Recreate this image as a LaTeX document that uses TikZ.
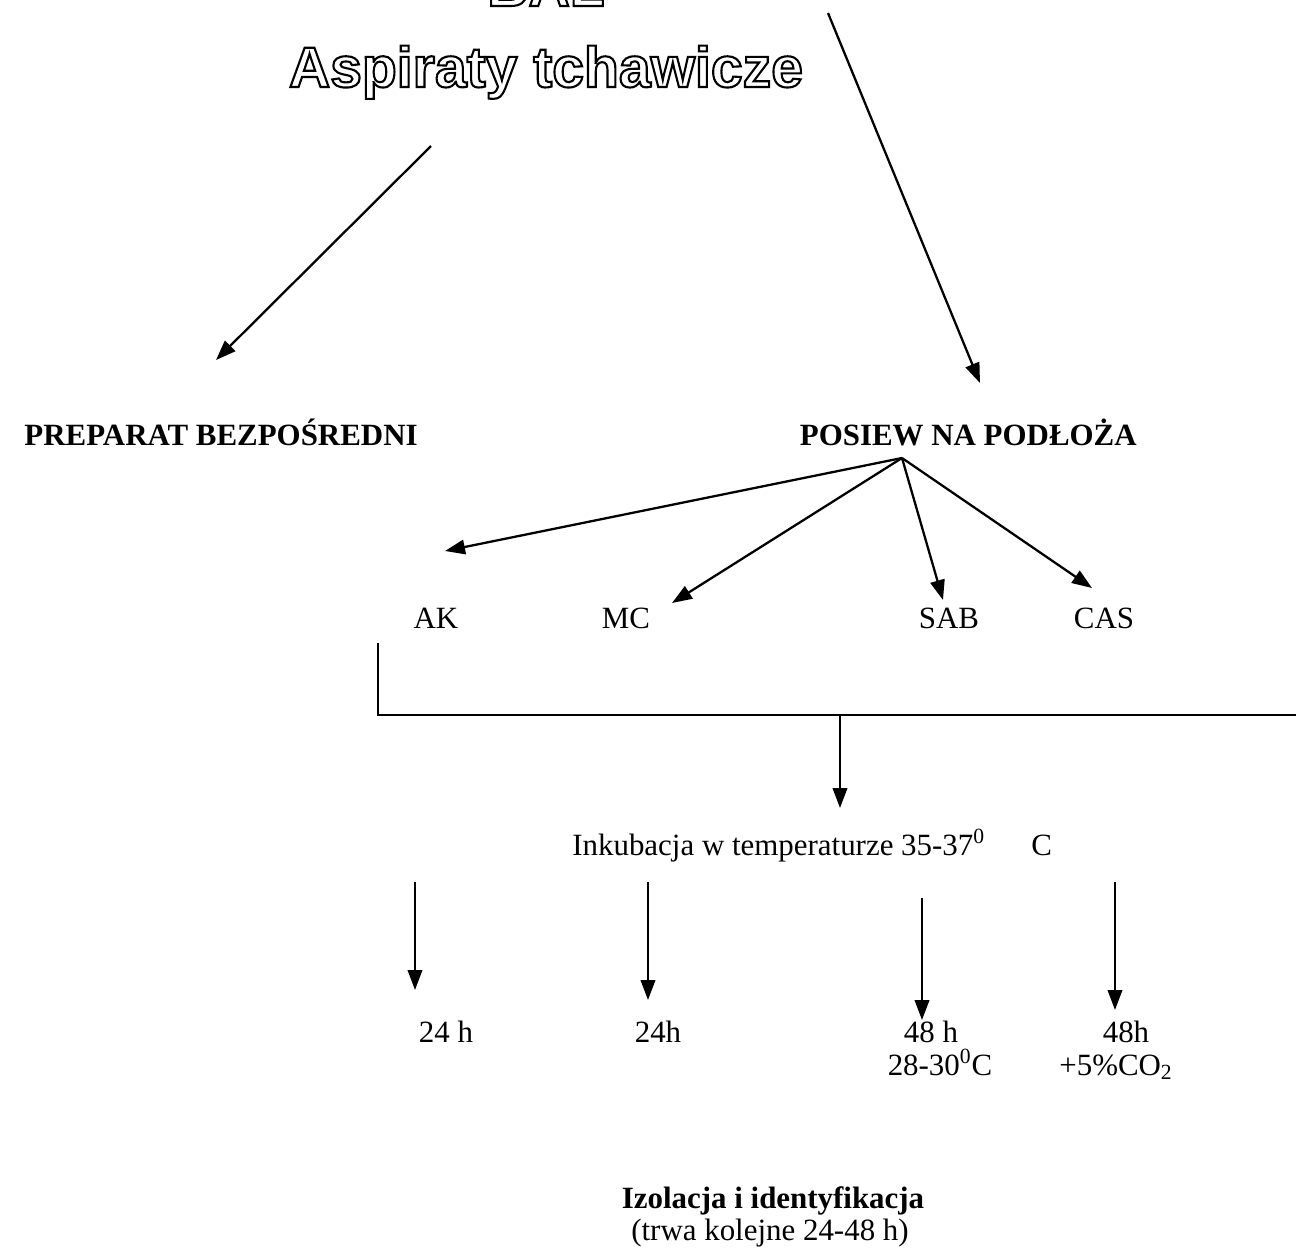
\documentclass[tikz,border=0pt]{standalone}
\usepackage{fontspec}
\setmainfont{Liberation Serif}
\newfontfamily\outlinefont{Liberation Sans}
\usetikzlibrary{arrows.meta}
\tikzset{
	arr/.style={-{Triangle[length=0.4cm,width=0.29cm]},line width=1.3pt},
	lbl/.style={anchor=base,inner sep=0pt,font=\fontsize{17.6}{21}\selectfont},
	bold/.style={lbl,font=\fontsize{17.6}{21}\selectfont\bfseries},
	outl/.style={anchor=base,inner sep=0pt,font=\fontsize{32.5}{38}\selectfont\outlinefont\bfseries}
}
\newcommand{\outltext}[1]{\special{pdf:literal direct 1 Tr 1.2 w}#1\special{pdf:literal direct 0 Tr}}
\begin{document}
\begin{tikzpicture}[x=0.02cm,y=-0.02cm]
	\useasboundingbox (0,0) rectangle (1296,1258);
	
	\node[outl] (bal) at (546,6) {\outltext{BAL}};
	\node[outl] (asp) at (546,87) {\outltext{Aspiraty tchawicze}};
	
	\coordinate (aspl) at (431,146);
	\coordinate (aspr) at (828,13);
	\coordinate (prepin) at (216,360);
	\coordinate (posin) at (980,383);
	\draw[arr] (aspl) -- (prepin);
	\draw[arr] (aspr) -- (posin);
	
	\node[bold,anchor=base east] (prep) at (418,445) {PREPARAT BEZPOŚREDNI};
	\node[bold,anchor=base east] (posiew) at (1137,445) {POSIEW NA PODŁOŻA};
	
	\node[lbl] (ak) at (436,628) {AK};
	\node[lbl] (mc) at (626,628) {MC};
	\node[lbl] (sab) at (949,628) {SAB};
	\node[lbl] (cas) at (1104,628) {CAS};
	
	\coordinate (fan) at (902,458);
	\draw[arr] (fan) -- (445,551);
	\draw[arr] (fan) -- (672,603);
	\draw[arr] (fan) -- (943,600);
	\draw[arr] (fan) -- (1092,588);
	
	\coordinate (brl) at (378,643);
	\coordinate (brc) at (840,715);
	\draw[line width=1.3pt] (brl) |- (1296,715);
	\draw[arr] (brc) -- (840,808);
	
	\node[lbl,anchor=base west] (ink) at (572,855) {Inkubacja w temperaturze 35-37\textsuperscript{0}\hspace{1.5em}C};
	
	\draw[arr] (415,882) -- (415,990);
	\draw[arr] (648,882) -- (648,1000);
	\draw[arr] (922,898) -- (922,1020);
	\draw[arr] (1115,882) -- (1115,1010);
	
	\node[lbl] (t1) at (446,1042) {24 h};
	\node[lbl] (t2) at (658,1042) {24h};
	\node[lbl] (t3) at (931,1042) {48 h};
	\node[lbl] (t3b) at (940,1075) {28-30\textsuperscript{0}C};
	\node[lbl] (t4) at (1126,1042) {48h};
	\node[lbl] (t4b) at (1116,1075) {+5\%CO\textsubscript{2}};
	
	\node[bold] (izol) at (773,1208) {Izolacja i identyfikacja};
	\node[lbl] (trwa) at (770,1240) {(trwa kolejne 24-48 h)};
\end{tikzpicture}
\end{document}
